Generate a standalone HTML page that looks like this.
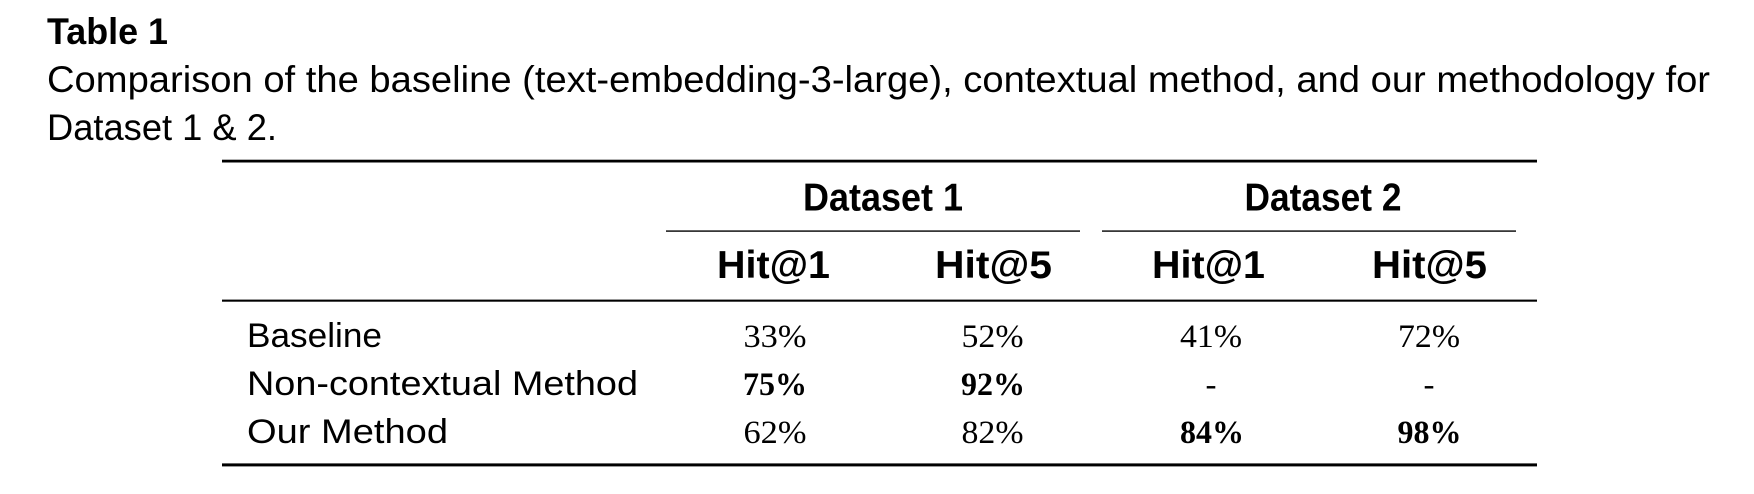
<!DOCTYPE html>
<html>
<head>
<meta charset="utf-8">
<style>
  html, body { margin: 0; padding: 0; background: #fff; }
  body { width: 1754px; height: 494px; overflow: hidden; }
  svg { display: block; }
  .sans { font-family: "Liberation Sans", "DejaVu Sans", sans-serif; }
  .serif { font-family: "Liberation Serif", "DejaVu Serif", serif; }
</style>
</head>
<body>
<svg width="1754" height="494" viewBox="0 0 1754 494" xmlns="http://www.w3.org/2000/svg">
  <rect x="0" y="0" width="1754" height="494" fill="#fff"/>

  <!-- Caption -->
  <text class="sans" x="47" y="44" font-size="37" font-weight="bold" fill="#000" textLength="121" lengthAdjust="spacingAndGlyphs">Table 1</text>
  <text class="sans" x="47" y="92" font-size="37" fill="#000" textLength="1663" lengthAdjust="spacingAndGlyphs">Comparison of the baseline (text-embedding-3-large), contextual method, and our methodology for</text>
  <text class="sans" x="47" y="140" font-size="37" fill="#000" textLength="230" lengthAdjust="spacingAndGlyphs">Dataset 1 &amp; 2.</text>

  <!-- Rules -->
  <rect x="222" y="159.7" width="1315" height="2.8" fill="#000"/>
  <rect x="666" y="230.3" width="414" height="1.6" fill="#222"/>
  <rect x="1102" y="230.3" width="414" height="1.6" fill="#222"/>
  <rect x="222" y="299.6" width="1315" height="2.1" fill="#000"/>
  <rect x="222" y="463.4" width="1315" height="3" fill="#000"/>

  <!-- Header row 1 -->
  <text class="sans" x="883" y="210.5" font-size="39" font-weight="bold" fill="#000" text-anchor="middle" textLength="160" lengthAdjust="spacingAndGlyphs">Dataset 1</text>
  <text class="sans" x="1323" y="210.5" font-size="39" font-weight="bold" fill="#000" text-anchor="middle" textLength="157" lengthAdjust="spacingAndGlyphs">Dataset 2</text>

  <!-- Header row 2 -->
  <text class="sans" x="773.5" y="278" font-size="39" font-weight="bold" fill="#000" text-anchor="middle" textLength="113" lengthAdjust="spacingAndGlyphs">Hit@1</text>
  <text class="sans" x="993.5" y="278" font-size="39" font-weight="bold" fill="#000" text-anchor="middle" textLength="117" lengthAdjust="spacingAndGlyphs">Hit@5</text>
  <text class="sans" x="1208.5" y="278" font-size="39" font-weight="bold" fill="#000" text-anchor="middle" textLength="113" lengthAdjust="spacingAndGlyphs">Hit@1</text>
  <text class="sans" x="1429.5" y="278" font-size="39" font-weight="bold" fill="#000" text-anchor="middle" textLength="115" lengthAdjust="spacingAndGlyphs">Hit@5</text>

  <!-- Row labels -->
  <text class="sans" x="247" y="347" font-size="34" fill="#000" textLength="135" lengthAdjust="spacingAndGlyphs">Baseline</text>
  <text class="sans" x="247" y="395" font-size="34" fill="#000" textLength="391" lengthAdjust="spacingAndGlyphs">Non-contextual Method</text>
  <text class="sans" x="247" y="443" font-size="34" fill="#000" textLength="201" lengthAdjust="spacingAndGlyphs">Our Method</text>

  <!-- Row 1 -->
  <text class="serif" x="775" y="347" font-size="33" fill="#000" text-anchor="middle" textLength="63" lengthAdjust="spacingAndGlyphs">33%</text>
  <text class="serif" x="992.5" y="347" font-size="33" fill="#000" text-anchor="middle" textLength="62" lengthAdjust="spacingAndGlyphs">52%</text>
  <text class="serif" x="1211" y="347" font-size="33" fill="#000" text-anchor="middle" textLength="62" lengthAdjust="spacingAndGlyphs">41%</text>
  <text class="serif" x="1429" y="347" font-size="33" fill="#000" text-anchor="middle" textLength="62" lengthAdjust="spacingAndGlyphs">72%</text>

  <!-- Row 2 -->
  <text class="serif" x="775" y="395" font-size="33" font-weight="bold" fill="#000" text-anchor="middle" textLength="64" lengthAdjust="spacingAndGlyphs">75%</text>
  <text class="serif" x="993" y="395" font-size="33" font-weight="bold" fill="#000" text-anchor="middle" textLength="64" lengthAdjust="spacingAndGlyphs">92%</text>
  <text class="serif" x="1211" y="395" font-size="33" fill="#000" text-anchor="middle">-</text>
  <text class="serif" x="1429" y="395" font-size="33" fill="#000" text-anchor="middle">-</text>

  <!-- Row 3 -->
  <text class="serif" x="775" y="443" font-size="33" fill="#000" text-anchor="middle" textLength="63" lengthAdjust="spacingAndGlyphs">62%</text>
  <text class="serif" x="992.5" y="443" font-size="33" fill="#000" text-anchor="middle" textLength="62" lengthAdjust="spacingAndGlyphs">82%</text>
  <text class="serif" x="1212" y="443" font-size="33" font-weight="bold" fill="#000" text-anchor="middle" textLength="64" lengthAdjust="spacingAndGlyphs">84%</text>
  <text class="serif" x="1429.5" y="443" font-size="33" font-weight="bold" fill="#000" text-anchor="middle" textLength="64" lengthAdjust="spacingAndGlyphs">98%</text>
</svg>
</body>
</html>
